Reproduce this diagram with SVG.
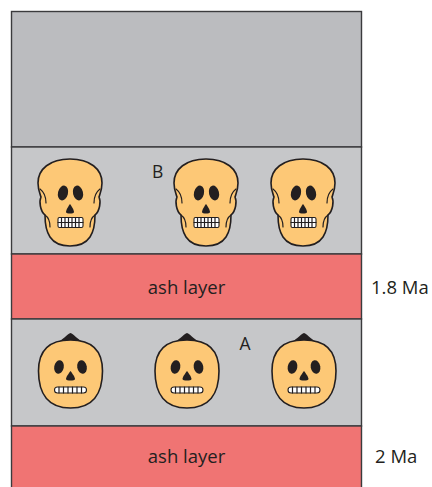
<svg xmlns="http://www.w3.org/2000/svg" width="432" height="487" viewBox="0 0 432 487">
  <style>
    .edge { stroke: #3b3b3d; stroke-width: 1.4; }
    .txt { font-family: "Open Sans", "Liberation Sans", Arial, sans-serif; font-size: 18.5px; fill: #231f20; }
    .lbl { font-family: "Open Sans", "Liberation Sans", Arial, sans-serif; font-size: 17.5px; fill: #231f20; }
    .bone { fill: #fdc876; stroke: #231f20; stroke-width: 1.6; stroke-linejoin: round; }
    .line { fill: none; stroke: #231f20; stroke-width: 1.2; stroke-linecap: round; }
    .dark { fill: #231f20; }
    .teeth { fill: #ffffff; stroke: #231f20; stroke-width: 1.1; }
  </style>
  <defs>
    <!-- skull, origin at top centre of cranium -->
    <g id="skull">
      <path class="bone" d="M 0,0 C 20,0 32,10 32,24 C 32,31 30,35 29,38 C 31,42 30,52 25,56 C 25,64 24,72 20,78 C 16,84 10,87 0,87 C -10,87 -16,84 -20,78 C -24,72 -25,64 -25,56 C -30,52 -31,42 -29,38 C -30,35 -32,31 -32,24 C -32,10 -20,0 0,0 Z"/>
      <path class="line" d="M -30,30 C -26,33 -24,38 -24,44 M 30,30 C 26,33 24,38 24,44 M -25,56 C -22,58 -20,62 -20,68 M 25,56 C 22,58 20,62 20,68"/>
      <ellipse class="dark" cx="-7" cy="34" rx="5" ry="7.5" transform="rotate(14 -7 34)"/>
      <ellipse class="dark" cx="8" cy="34" rx="5" ry="7.5" transform="rotate(-14 8 34)"/>
      <path class="dark" d="M 0,45 C 1.5,47 4,51 4,53 C 4,55 -4,55 -4,53 C -4,51 -1.5,47 0,45 Z"/>
      <rect class="teeth" x="-12" y="58.5" width="25" height="10" rx="1.5"/>
      <path class="line" stroke-width="0.8" d="M -12,63.5 H 13 M -8.5,58.5 V 68.5 M -5,58.5 V 68.5 M -1.5,58.5 V 68.5 M 2,58.5 V 68.5 M 5.5,58.5 V 68.5 M 9,58.5 V 68.5"/>
    </g>
    <!-- pumpkin head, origin at top centre of body -->
    <g id="pumpkin">
      <path class="dark" d="M -12,2 C -6,-2 -3,-6 0,-7 C 3,-6 6,-2 12,2 C 4,0 -4,0 -12,2 Z"/>
      <path class="bone" d="M 0,0 C 21,0 32,10 32,31 C 32,54 22,68 0,68 C -22,68 -32,54 -32,31 C -32,10 -21,0 0,0 Z"/>
      <ellipse class="dark" cx="-11.5" cy="27" rx="4.8" ry="6.8" transform="rotate(10 -11.5 27)"/>
      <ellipse class="dark" cx="11.5" cy="27" rx="4.8" ry="6.8" transform="rotate(-10 11.5 27)"/>
      <path class="dark" d="M 0,31 C 1.5,33 4.5,37 4.5,39 C 4.5,41 -4.5,41 -4.5,39 C -4.5,37 -1.5,33 0,31 Z"/>
      <rect class="teeth" x="-16" y="47" width="32" height="6" rx="3"/>
      <path class="line" stroke-width="0.8" d="M -11.5,47 V 53 M -7,47 V 53 M -2.5,47 V 53 M 2,47 V 53 M 6.5,47 V 53 M 11,47 V 53"/>
    </g>
  </defs>

  <!-- strata -->
  <g id="strata">
    <rect id="top-layer" x="11.5" y="11.5" width="350" height="135.5" fill="#bbbcbf" class="edge"/>
    <rect id="skull-layer" x="11.5" y="147" width="350" height="107" fill="#c6c7c9" class="edge"/>
    <rect id="ash-upper" x="11.5" y="254" width="350" height="65" fill="#f07473" class="edge"/>
    <rect id="pumpkin-layer" x="11.5" y="319" width="350" height="107" fill="#c6c7c9" class="edge"/>
    <rect id="ash-lower" x="11.5" y="426" width="350" height="70" fill="#f07473" class="edge"/>
  </g>

  <g id="ash-labels">
    <text class="txt" x="186.5" y="294" text-anchor="middle">ash layer</text>
    <text class="txt" x="186.5" y="463" text-anchor="middle">ash layer</text>
    <text class="txt" x="371" y="294">1.8 Ma</text>
    <text class="txt" x="375" y="463">2 Ma</text>
  </g>

  <g id="skulls">
    <use href="#skull" x="70" y="159"/>
    <use href="#skull" x="206" y="159"/>
    <use href="#skull" x="303" y="159"/>
  </g>
  <g id="pumpkins">
    <use href="#pumpkin" x="70.5" y="340"/>
    <use href="#pumpkin" x="187" y="340"/>
    <use href="#pumpkin" x="304" y="340"/>
  </g>

  <g id="markers">
    <text class="lbl" x="152" y="178">B</text>
    <text class="lbl" x="239.5" y="350">A</text>
  </g>
</svg>
